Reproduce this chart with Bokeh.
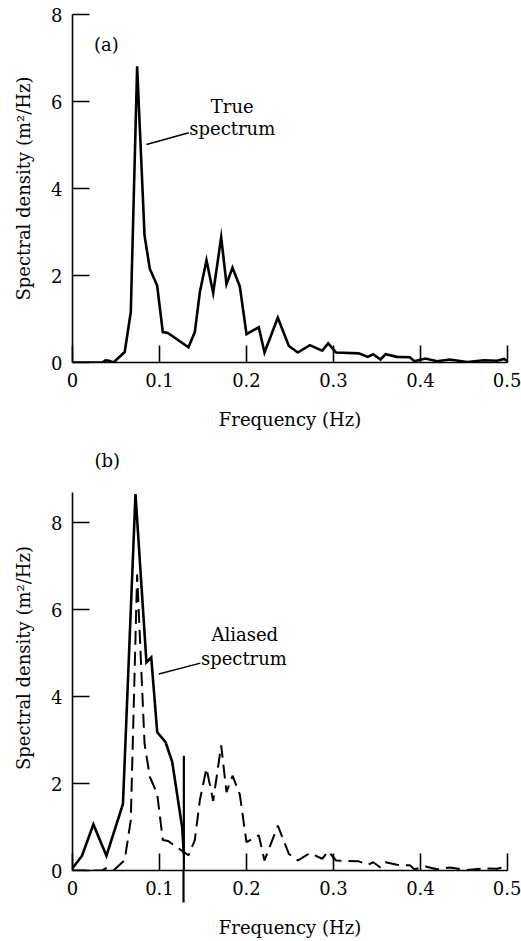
from bokeh.plotting import figure
from bokeh.layouts import column
from bokeh.models import Range1d, FixedTicker, NumeralTickFormatter
from bokeh.core.properties import value
from bokeh.embed import file_html
from bokeh.resources import INLINE

FONT = "DejaVu Serif"
FSIZE = "18px"

# ---- data -------------------------------------------------------------
# true wave spectrum (Hz, m^2/Hz)
true_freq = [0.0, 0.034, 0.038, 0.042, 0.047, 0.060, 0.067, 0.0743, 0.0828, 0.0889,
             0.0973, 0.1038, 0.1096, 0.1333, 0.1406, 0.1464, 0.154, 0.1617, 0.1709,
             0.177, 0.1839, 0.1923, 0.200, 0.2141, 0.2207, 0.236, 0.2487, 0.259,
             0.2728, 0.287, 0.2939, 0.303, 0.329, 0.3394, 0.3456, 0.354, 0.3598,
             0.373, 0.3877, 0.393, 0.4057, 0.419, 0.4337, 0.4537, 0.473, 0.488,
             0.496, 0.5]
true_dens = [0.0, 0.0, 0.05, 0.04, 0.0, 0.24, 1.16, 6.81, 2.92, 2.15,
             1.77, 0.70, 0.68, 0.35, 0.70, 1.62, 2.35, 1.60, 2.88,
             1.80, 2.18, 1.75, 0.65, 0.81, 0.23, 1.03, 0.38, 0.23,
             0.40, 0.27, 0.44, 0.23, 0.21, 0.13, 0.19, 0.07, 0.19,
             0.13, 0.12, 0.03, 0.09, 0.03, 0.07, 0.01, 0.05, 0.04,
             0.08, 0.03]

# aliased spectrum
alias_freq = [0.0, 0.011, 0.024, 0.039, 0.058, 0.0724, 0.085, 0.0905, 0.0974,
              0.107, 0.1146, 0.126, 0.128]
alias_dens = [0.05, 0.34, 1.06, 0.34, 1.53, 8.66, 4.79, 4.90, 3.18,
              2.95, 2.50, 1.0, 0.38]

nyquist_freq = 0.128
nyquist_top = 2.64

x_ticks = [0, 0.1, 0.2, 0.3, 0.4, 0.5]
y_ticks = [0, 2, 4, 6, 8]


def style_axis(ax, label_standoff, title_standoff):
    ax.major_tick_in = 17
    ax.major_tick_out = 0
    ax.minor_tick_in = 0
    ax.minor_tick_out = 0
    ax.axis_line_width = 1.6
    ax.axis_line_color = "black"
    ax.major_tick_line_width = 1.6
    ax.major_tick_line_color = "black"
    ax.major_label_text_font = FONT
    ax.major_label_text_font_size = FSIZE
    ax.major_label_text_color = "black"
    ax.major_label_standoff = label_standoff
    ax.axis_label_text_font = FONT
    ax.axis_label_text_font_size = FSIZE
    ax.axis_label_text_font_style = "normal"
    ax.axis_label_text_color = "black"
    ax.axis_label_standoff = title_standoff


def label(p, x, y, txt):
    p.text(x=[x], y=[y], text=[txt], text_font=value(FONT),
           text_font_size=value(FSIZE), text_align="center",
           text_baseline="middle", text_color="black")


# ---- (a) ---------------------------------------------------------------
p1 = figure(frame_width=435, frame_height=348, min_border_left=72,
            min_border_right=14, min_border_top=14, min_border_bottom=78,
            x_range=Range1d(0, 0.5), y_range=Range1d(0, 8),
            output_backend="svg", toolbar_location=None,
            x_axis_label="Frequency (Hz)",
            y_axis_label="Spectral density (m²/Hz)")
p1.outline_line_color = None
p1.grid.visible = False
p1.xaxis.ticker = FixedTicker(ticks=x_ticks)
p1.yaxis.ticker = FixedTicker(ticks=y_ticks)
p1.xaxis.formatter = NumeralTickFormatter(format="0.[0]")
p1.yaxis.formatter = NumeralTickFormatter(format="0")
style_axis(p1.xaxis[0], 10, 19)
style_axis(p1.yaxis[0], 10, 14)

p1.line(true_freq, true_dens, line_color="black", line_width=2.6,
        line_join="miter")
label(p1, 0.039, 7.32, "(a)")
label(p1, 0.1836, 5.89, "True")
label(p1, 0.1836, 5.38, "spectrum")
p1.segment(x0=[0.085], y0=[5.01], x1=[0.1337], y1=[5.28],
           line_color="black", line_width=1.5)

# ---- (b) ---------------------------------------------------------------
p2 = figure(frame_width=435, frame_height=425, min_border_left=72,
            min_border_right=14, min_border_top=5, min_border_bottom=71,
            x_range=Range1d(0, 0.5), y_range=Range1d(0, 9.775),
            output_backend="svg", toolbar_location=None,
            x_axis_label="Frequency (Hz)",
            y_axis_label="Spectral density (m²/Hz)")
p2.outline_line_color = None
p2.grid.visible = False
# the Nyquist marker continues below the axis as a long minor tick
p2.xaxis.ticker = FixedTicker(ticks=x_ticks, minor_ticks=[nyquist_freq])
p2.xaxis.formatter = NumeralTickFormatter(format="0.[0]")
p2.yaxis.ticker = FixedTicker(ticks=y_ticks)
p2.yaxis.formatter = NumeralTickFormatter(format="0")
p2.yaxis.bounds = (0, 8.7)
style_axis(p2.xaxis[0], 10 - 32, 19)
style_axis(p2.yaxis[0], 10, 14)
p2.xaxis.minor_tick_out = 32
p2.xaxis.minor_tick_in = 0
p2.xaxis.minor_tick_line_width = 2.2
p2.xaxis.minor_tick_line_color = "black"

p2.line(true_freq, true_dens, line_color="black", line_width=2.0,
        line_dash="14 7")
p2.line(alias_freq, alias_dens, line_color="black", line_width=2.6,
        line_join="miter")
p2.line([nyquist_freq, nyquist_freq], [0, nyquist_top], line_color="black",
        line_width=2.2)
label(p2, 0.04, 9.43, "(b)")
label(p2, 0.198, 5.42, "Aliased")
label(p2, 0.197, 4.87, "spectrum")
p2.segment(x0=[0.0992], y0=[4.52], x1=[0.147], y1=[4.77],
           line_color="black", line_width=1.5)

layout = column(p1, p2, spacing=0)
open("out.html", "w").write(file_html(layout, INLINE))
